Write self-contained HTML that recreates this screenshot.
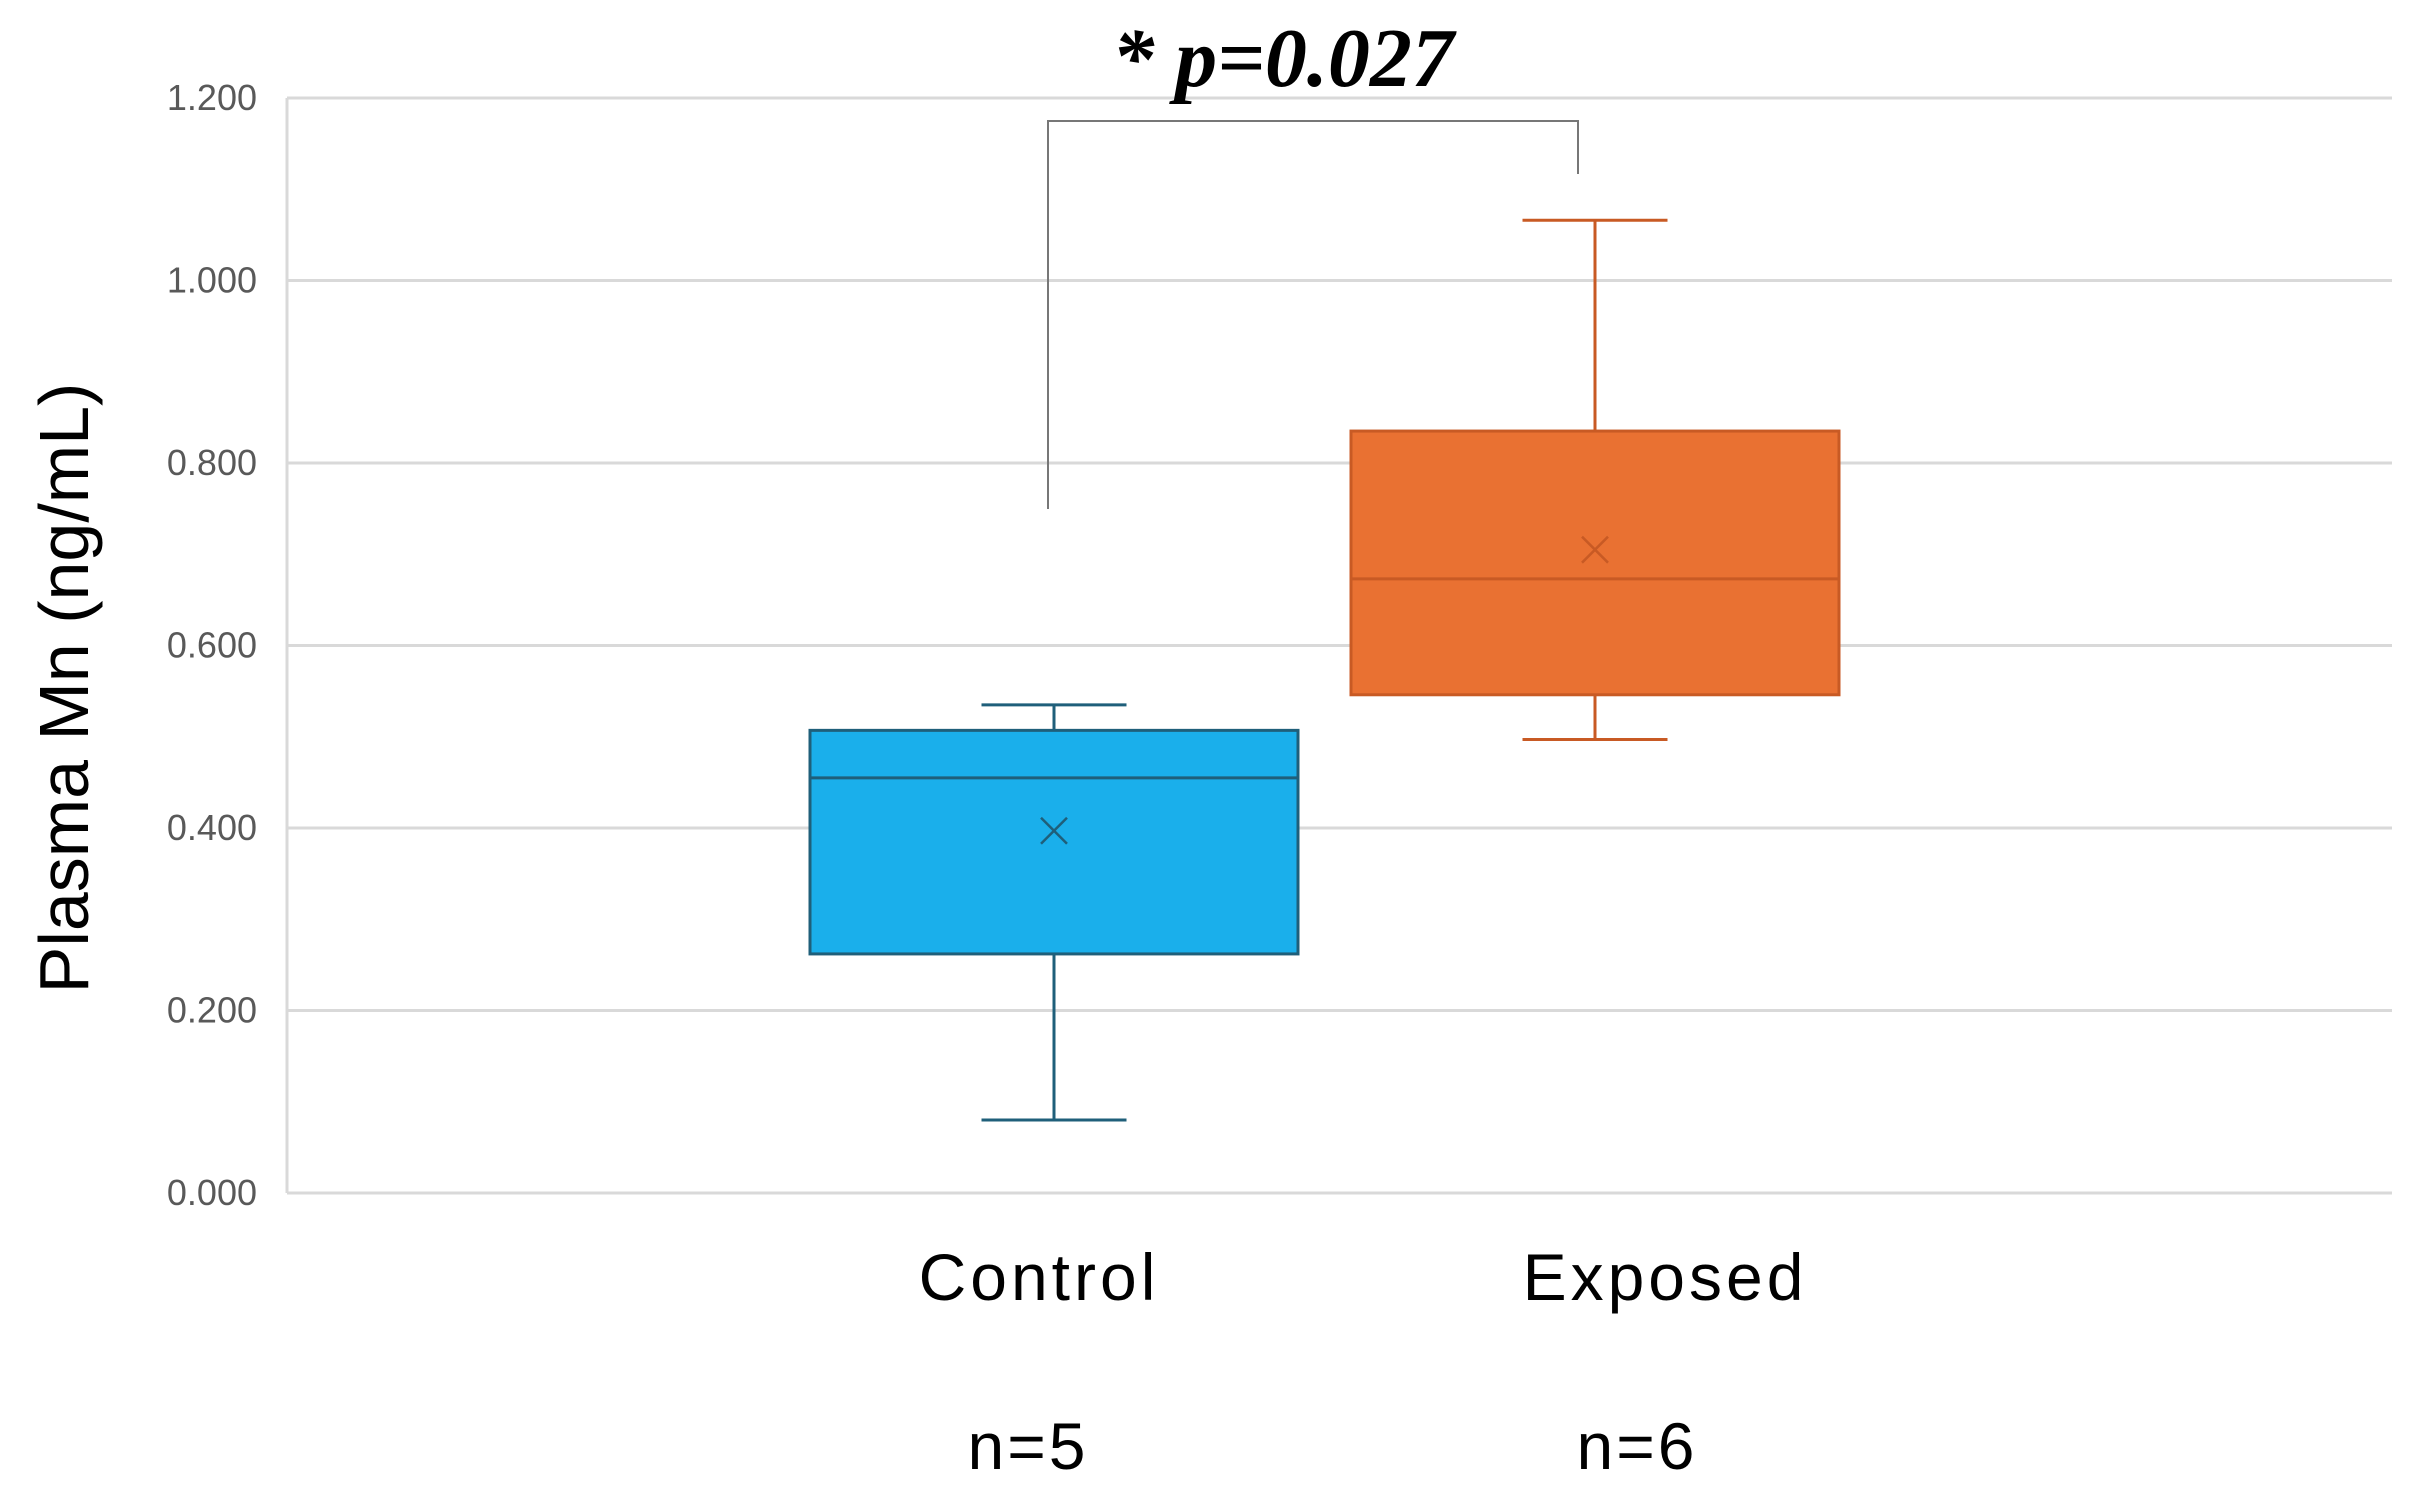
<!DOCTYPE html>
<html><head><meta charset="utf-8"><style>
html,body{margin:0;padding:0;background:#fff;width:2432px;height:1497px;overflow:hidden}
svg{display:block}
</style></head><body>
<svg id="chart" width="2432" height="1497" viewBox="0 0 2432 1497" xmlns="http://www.w3.org/2000/svg">
<g id="grid"></g>
<g id="yticks"></g>
<g id="boxes"></g>
<g id="xlabels"></g>
<text transform="translate(88,688) rotate(-90)" text-anchor="middle" font-family="Liberation Sans, sans-serif" font-size="70" fill="#000">Plasma Mn (ng/mL)</text>
<path d="M1048 509 V121 H1578 V174" fill="none" stroke="#777" stroke-width="2"/>
<text x="1283" y="86" text-anchor="middle" font-family="Liberation Serif, serif" font-size="84" font-weight="bold" font-style="italic" fill="#000">* p=0.027</text>
</svg>
<script>
const categories = ["Control", "Exposed"];
const nLabels = ["n=5", "n=6"];
const mins = [0.080, 0.497];
const q1s = [0.262, 0.546];
const medians = [0.455, 0.673];
const q3s = [0.507, 0.835];
const maxs = [0.535, 1.066];
const means = [0.397, 0.705];
const yTicks = [0, 0.2, 0.4, 0.6, 0.8, 1.0, 1.2];
const yTickLabels = ["0.000","0.200","0.400","0.600","0.800","1.000","1.200"];

const NS = "http://www.w3.org/2000/svg";
const plotL = 287, plotR = 2392, y0 = 1193, yTop = 98, yMax = 1.2;
const y = v => y0 - (v / yMax) * (y0 - yTop);
const centers = [1054, 1595];
const x = i => centers[i];
const boxW = 488, capW = 145;
const fills = ["#1AAFEB", "#E97132"];
const strokes = ["#1F5F7A", "#C85A24"];
const labelX = [1039, 1665];
const nX = [1028, 1637];
function mk(tag, attrs, parent) {
  const e = document.createElementNS(NS, tag);
  for (const k in attrs) e.setAttribute(k, attrs[k]);
  parent.appendChild(e);
  return e;
}
const grid = document.getElementById('grid');
const yt = document.getElementById('yticks');
yTicks.forEach((t, i) => {
  const l = mk('line', {x1: plotL, x2: plotR, y1: y(t), y2: y(t), stroke: '#d9d9d9', 'stroke-width': 3}, grid);
  
  
  const tx = mk('text', {x: 257, y: y(t) + 12, 'text-anchor': 'end', 'font-family': 'Liberation Sans, sans-serif', 'font-size': 36, fill: '#595959'}, yt);
  tx.textContent = yTickLabels[i];
  
  
});
mk('line', {x1: plotL, x2: plotL, y1: yTop, y2: y0, stroke: '#d9d9d9', 'stroke-width': 3}, grid);
const boxes = document.getElementById('boxes');
const xl = document.getElementById('xlabels');
categories.forEach((c, i) => {
  const cx = x(i), st = strokes[i];
  const g = mk('g', {}, boxes);
  
  
  mk('line', {x1: cx, x2: cx, y1: y(maxs[i]), y2: y(q3s[i]), stroke: st, 'stroke-width': 3}, g);
  mk('line', {x1: cx, x2: cx, y1: y(q1s[i]), y2: y(mins[i]), stroke: st, 'stroke-width': 3}, g);
  mk('line', {x1: cx - capW/2, x2: cx + capW/2, y1: y(maxs[i]), y2: y(maxs[i]), stroke: st, 'stroke-width': 3}, g);
  mk('line', {x1: cx - capW/2, x2: cx + capW/2, y1: y(mins[i]), y2: y(mins[i]), stroke: st, 'stroke-width': 3}, g);
  mk('rect', {x: cx - boxW/2, y: y(q3s[i]), width: boxW, height: y(q1s[i]) - y(q3s[i]), fill: fills[i], stroke: st, 'stroke-width': 3}, g);
  mk('line', {x1: cx - boxW/2, x2: cx + boxW/2, y1: y(medians[i]), y2: y(medians[i]), stroke: st, 'stroke-width': 3}, g);
  const my = y(means[i]), s = 13;
  mk('path', {d: `M${cx-s} ${my-s} L${cx+s} ${my+s} M${cx+s} ${my-s} L${cx-s} ${my+s}`, stroke: st, 'stroke-width': 2.5, fill: 'none'}, g);
  const t1 = mk('text', {x: labelX[i], y: 1300, 'text-anchor': 'middle', 'font-family': 'Liberation Sans, sans-serif', 'font-size': 66, 'letter-spacing': 4, fill: '#000'}, xl);
  t1.textContent = c;
  
  
  const t2 = mk('text', {x: nX[i], y: 1469, 'text-anchor': 'middle', 'font-family': 'Liberation Sans, sans-serif', 'font-size': 66, 'letter-spacing': 3, fill: '#000'}, xl);
  t2.textContent = nLabels[i];
  
  
});
</script>
</body></html>
